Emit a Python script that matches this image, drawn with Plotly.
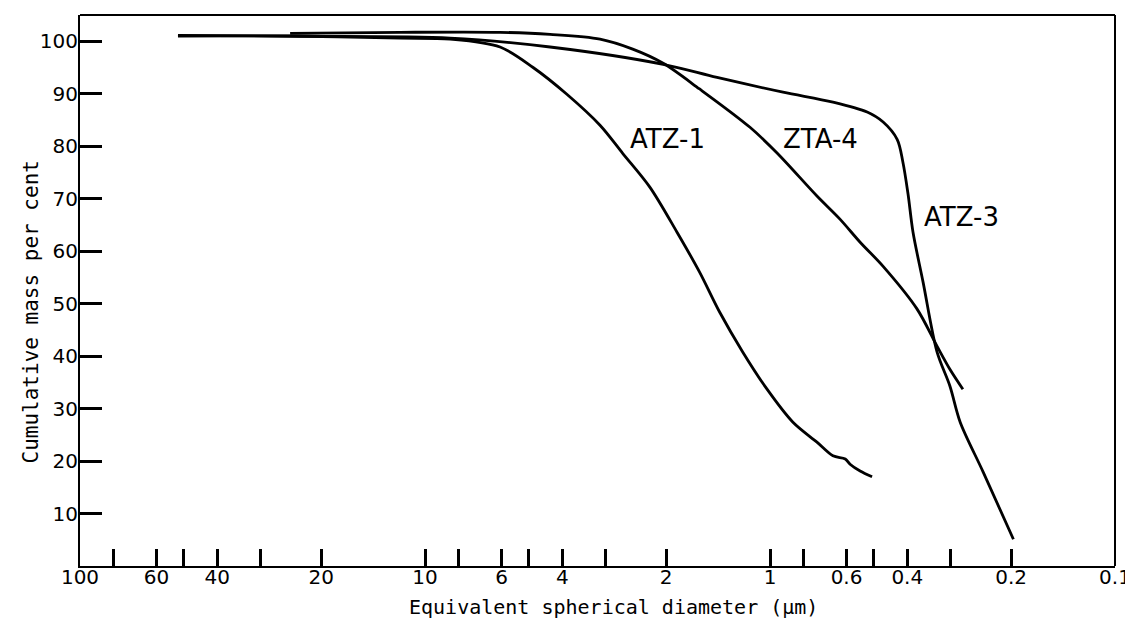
import math
import plotly.graph_objects as go

# ---- data (diameter in micrometres, cumulative mass per cent) ----
atz1_d = [52.0, 24.6, 11.8, 8.46, 6.06, 4.86, 3.88, 3.11, 2.67, 2.23, 1.86, 1.60,
          1.40, 1.20, 1.02, 0.858, 0.731, 0.657, 0.605, 0.586, 0.548, 0.506]
atz1_v = [101.0, 101.0, 100.6, 100.4, 98.9, 95.0, 89.9, 84.0, 78.6, 72.2, 63.6, 56.0,
          48.4, 40.8, 33.7, 27.4, 23.6, 21.0, 20.4, 19.4, 18.1, 17.0]

zta4_d = [24.6, 11.8, 6.06, 4.34, 3.11, 2.50, 2.04, 1.60, 1.143, 0.954, 0.731, 0.627,
          0.548, 0.470, 0.375, 0.328, 0.301, 0.276]
zta4_v = [101.5, 101.7, 101.7, 101.3, 100.4, 98.5, 95.8, 90.9, 83.6, 78.7, 70.5, 66.1,
          61.7, 57.1, 49.0, 41.9, 37.5, 33.7]

atz3_d = [52.0, 23.0, 8.46, 4.34, 2.04, 1.424, 0.917, 0.657, 0.523, 0.470, 0.428, 0.412,
          0.398, 0.385, 0.360, 0.328, 0.301, 0.281, 0.241, 0.197]
atz3_v = [101.1, 100.95, 100.6, 98.9, 95.6, 93.1, 90.3, 88.4, 86.5, 84.6, 81.3, 77.0,
          70.9, 63.6, 54.1, 40.8, 34.3, 27.4, 17.9, 5.1]

x_tickvals = [100, 80, 60, 50, 40, 30, 20, 10, 8, 6, 5, 4, 3, 2, 1, 0.8, 0.6, 0.5, 0.4, 0.3, 0.2, 0.1]
x_ticktext = ["100", "", "60", "", "40", "", "20", "10", "", "6", "", "4", "", "2", "1", "",
              "0.6", "", "0.4", "", "0.2", "0.1"]
y_tickvals = [10, 20, 30, 40, 50, 60, 70, 80, 90, 100]

labels = ["ATZ-1", "ZTA-4", "ATZ-3"]
label_d = [1.976, 0.716, 0.278]
label_v = [81.3, 81.3, 66.5]

fig = go.Figure()
line = dict(color="black", width=2.8, shape="spline", smoothing=0.9)
for d, v, name in [(atz1_d, atz1_v, "ATZ-1"), (zta4_d, zta4_v, "ZTA-4"), (atz3_d, atz3_v, "ATZ-3")]:
    fig.add_trace(go.Scatter(x=d, y=v, mode="lines", line=line, name=name, showlegend=False))

for t, d, v in zip(labels, label_d, label_v):
    fig.add_annotation(x=math.log10(d), y=v, xref="x", yref="y", text=t, showarrow=False,
                       xanchor="center", yanchor="middle",
                       font=dict(family="DejaVu Sans", size=26, color="black"))

fig.add_annotation(x=0.5 + 16/1035, y=-41/551, xref="paper", yref="paper",
                   text="Equivalent spherical diameter (µm)", showarrow=False,
                   xanchor="center", yanchor="middle",
                   font=dict(family="DejaVu Sans Mono", size=20, color="black"))
fig.add_annotation(x=-50/1035, y=0.5 - 22/551, xref="paper", yref="paper",
                   text="Cumulative mass per cent", showarrow=False, textangle=-90,
                   xanchor="center", yanchor="middle",
                   font=dict(family="DejaVu Sans Mono", size=21, color="black"))

# frame: top and right edges
fig.add_shape(type="line", xref="paper", yref="paper", x0=0, x1=1, y0=1, y1=1,
              line=dict(color="black", width=2))
fig.add_shape(type="line", xref="paper", yref="paper", x0=1, x1=1, y0=0, y1=1,
              line=dict(color="black", width=2))

fig.update_xaxes(type="log", range=[2, -1], tickvals=x_tickvals, ticktext=x_ticktext,
                 ticks="inside", ticklen=17, tickwidth=2.5, tickcolor="black",
                 showline=True, linecolor="black", linewidth=2, showgrid=False, zeroline=False,
                 automargin=False, ticklabelstandoff=-8, ticklabeloverflow="allow",
                 tickfont=dict(family="DejaVu Sans", size=20, color="black"))
fig.update_yaxes(range=[0, 105], tickvals=y_tickvals,
                 ticks="inside", ticklen=22, tickwidth=2.5, tickcolor="black",
                 showline=True, linecolor="black", linewidth=2, showgrid=False, zeroline=False,
                 automargin=False, ticklabelstandoff=-4,
                 tickfont=dict(family="DejaVu Sans", size=20, color="black"))

# page body adds an 8px offset; figure is sized so the plot area lands at x 80-1115, y 15-566
fig.update_layout(width=1125, height=622, autosize=False,
                  margin=dict(l=72, r=18, t=7, b=64),
                  paper_bgcolor="white", plot_bgcolor="white")

fig.write_html("out.html")
